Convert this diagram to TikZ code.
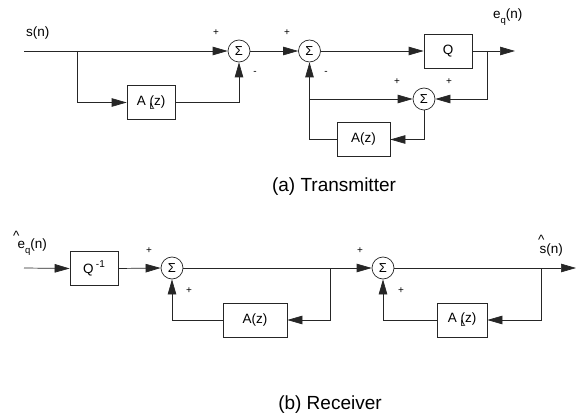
\documentclass[tikz,border=0pt]{standalone}
\usepackage{fontspec}
\setmainfont{Liberation Sans}
\usetikzlibrary{arrows.meta}
\begin{document}
\begin{tikzpicture}[x=1pt,y=-1pt,
  wire/.style={line width=0.7pt, draw=black!85},
  arr/.style={wire,-{Triangle[length=15pt,width=8.5pt]}},
  blk/.style={draw=black!85,line width=0.7pt,minimum width=48pt,minimum height=34pt,inner sep=0pt,font=\fontsize{13.5}{15}\selectfont},
  sumn/.style={circle,draw=black!85,line width=0.7pt,minimum size=22pt,inner sep=0pt,font=\fontsize{13}{14}\selectfont},
  sgn/.style={font=\fontsize{10}{11}\selectfont,inner sep=0pt},
  lbl/.style={font=\fontsize{13.5}{15}\selectfont,inner sep=0pt},
  captxt/.style={font=\fontsize{19}{22}\selectfont,inner sep=0pt}]
\useasboundingbox (0,0) rectangle (576,417);
% ---------- Transmitter ----------
\coordinate (in) at (24,51);
\coordinate (b1) at (77,51);
\node[blk] (AL1) at (151,102.5) {A \rlap{\raisebox{-4pt}{\fontsize{9}{9}\selectfont L}}(z)};
\node[sumn] (S1) at (239,51) {Σ};
\node[sumn] (S2) at (309.5,51) {Σ};
\node[blk] (Q) at (448,51) {Q};
\coordinate (b2) at (487,51);
\coordinate (out) at (515,51);
\node[sumn] (S3) at (424,99) {Σ};
\coordinate (b3) at (309.5,99);
\node[blk, minimum width=53pt] (A1) at (363.5,139.5) {A(z)};
\draw[wire] (in) -- (b1);
\draw[arr] (b1) -- (S1.west);
\draw[arr] (b1) |- (AL1.west);
\draw[arr] (AL1.east) -| (S1.south);
\draw[arr] (S1.east) -- (S2.west);
\draw[arr] (S2.east) -- (Q.west);
\draw[arr] (Q.east) -- (out);
\draw[arr] (b2) |- (S3.east);
\draw[arr] (b3) -- (S3.west);
\draw[arr] (S3.south) |- (A1.east);
\draw[arr] (A1.west) -| (S2.south);
\node[sgn] (p1) at (216,33) {+};
\node[sgn] (m1) at (255,73) {-};
\node[sgn] (p2) at (287,33) {+};
\node[sgn] (m2) at (326,73) {-};
\node[sgn] (p3) at (397,82) {+};
\node[sgn] (p4) at (449,82) {+};
\node[lbl, anchor=west] (sn) at (26,33) {s(n)};
\node[lbl, anchor=west] (eq) at (493,17) {e\raisebox{-5pt}{\fontsize{9.5}{9}\selectfont q}(n)};
\node[captxt] (capa) at (334,187) {(a) Transmitter};
% ---------- Receiver ----------
\coordinate (rin) at (24,268);
\node[blk] (QI) at (94,268.5) {Q\,\raisebox{6pt}{\fontsize{10}{10}\selectfont -1}};
\node[sumn] (S4) at (172,268) {Σ};
\coordinate (b4) at (330,268);
\node[blk, minimum width=64pt] (A2) at (255,320) {A(z)};
\node[sumn] (S5) at (383,268) {Σ};
\coordinate (b5) at (541,268);
\coordinate (rout) at (576,268);
\node[blk, minimum width=50pt] (AL2) at (462,320) {A \rlap{\raisebox{-4pt}{\fontsize{9}{9}\selectfont L}}(z)};
\draw[arr] (rin) -- (QI.west);
\draw[arr] (QI.east) -- (S4.west);
\draw[arr] (S4.east) -- (S5.west);
\draw[arr] (b4) |- (A2.east);
\draw[arr] (A2.west) -| (S4.south);
\draw[arr] (S5.east) -- (rout);
\draw[arr] (b5) |- (AL2.east);
\draw[arr] (AL2.west) -| (S5.south);
\node[sgn] (p5) at (149,251) {+};
\node[sgn] (p6) at (189,291) {+};
\node[sgn] (p7) at (360,251) {+};
\node[sgn] (p8) at (401,291) {+};
\node[lbl, anchor=west] (ehat) at (13,243) {\rlap{\raisebox{8pt}{\textasciicircum}}\hspace{4.5pt}e\raisebox{-5pt}{\fontsize{9.5}{9}\selectfont q}(n)};
\node[lbl, anchor=west] (shat) at (538,246) {\rlap{\raisebox{9pt}{\textasciicircum}}\hspace{1.5pt}s(n)};
\node[captxt] (capb) at (330,405) {(b) Receiver};
\end{tikzpicture}
\end{document}
